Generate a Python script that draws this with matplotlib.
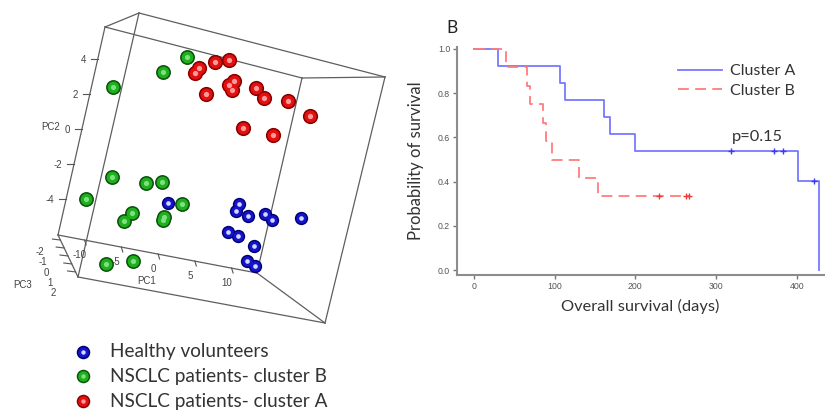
import numpy as np
import matplotlib.pyplot as plt

healthy_pc1 = [-0.24, 9.13, 8.85, 10.57, 12.78, 13.82, 17.56, 8.43, 9.94, 12.27, 11.77, 12.99]
healthy_pc2 = [-3.20, -2.50, -2.89, -3.06, -2.78, -3.03, -2.63, -4.13, -4.26, -4.63, -5.55, -5.72]

clusterB_pc1 = [-1.98, -4.69, -10.77, -8.32, -3.70, -1.58, -11.02, 1.69, -4.64, -5.41, -0.28, -0.30, -6.49, -3.10]
clusterB_pc2 = [5.05, 4.01, 2.66, -2.32, -2.33, -2.06, -3.82, -3.08, -4.13, -4.63, -3.97, -4.19, -7.21, -6.74]

clusterA_pc1 = [-0.15, -0.52, 1.80, 3.50, 4.80, 4.31, 4.77, 1.55, 7.86, 9.23, 12.44, 15.75, 7.32, 11.45]
clusterA_pc2 = [4.60, 4.29, 5.10, 5.34, 4.25, 3.97, 3.72, 3.21, 4.06, 3.60, 3.70, 3.11, 1.76, 1.67]

pc1_ticks = [-10, -5, 0, 5, 10]
pc2_ticks = [4, 2, 0, -2, -4]
pc3_ticks = [-2, -1, 0, 1, 2]

# ---- panel B: Kaplan-Meier steps ----
km_A_days = [0, 30, 106, 113, 161, 169, 200, 402, 427]
km_A_surv = [1.0, 0.923, 0.846, 0.769, 0.692, 0.615, 0.538, 0.404, 0.0]
km_A_cens_days = [319, 372, 383, 421]
km_A_cens_surv = [0.538, 0.538, 0.538, 0.404]

km_B_days = [0, 40, 66, 69, 86, 89, 97, 130, 154, 267]
km_B_surv = [1.0, 0.917, 0.833, 0.75, 0.667, 0.583, 0.5, 0.417, 0.333, 0.333]
km_B_cens_days = [229, 263, 266]
km_B_cens_surv = [0.333, 0.333, 0.333]

legend_labels = ['Healthy volunteers', 'NSCLC patients- cluster B', 'NSCLC patients- cluster A']

plt.rcParams['font.family'] = ['Lato', 'DejaVu Sans']

fig = plt.figure(figsize=(8.32, 4.13), dpi=100)

# left panel drawn in a pixel-like frame
axl = fig.add_axes([0, 0, 400 / 832, 1])
axl.set_xlim(0, 400)
axl.set_ylim(413, 0)
axl.axis('off')


def proj(p1, p2):
    p1 = np.asarray(p1, float)
    p2 = np.asarray(p2, float)
    return 182 + 7.35 * p1 + 3.93 * p2, 148 + 1.40 * p1 - 17.4 * p2


# box corners (perspective view)
A, B, C, D = (105, 27), (139, 13), (385, 77), (302, 78)
E, F, G, H = (58, 235), (78, 277), (325, 323), (257, 273)
edges = [(A, B), (B, C), (C, D), (D, A), (A, E), (B, F), (C, G), (D, H),
         (E, H), (E, F), (F, G), (H, G)]
for p, q in edges:
    axl.plot([p[0], q[0]], [p[1], q[1]], color='#5e5e5e', lw=0.9, zorder=1)

tick_kw = dict(color='#555555', lw=0.8, zorder=1)
lab_kw = dict(fontsize=7, color='#444444', family=['Liberation Sans'])
# PC2 ticks on the left front edge
for v in pc2_ticks:
    x, y = proj(-13.6, v)
    axl.plot([x - 7, x], [y, y], **tick_kw)
    axl.text(x - 12, y + 1, str(v), ha='right', va='center', **lab_kw)
x0, y0 = proj(-13.6, 0)
axl.text(x0 - 22, y0 - 2, 'PC2', ha='right', va='center', **lab_kw)
# PC1 ticks on the bottom front edge
for v in pc1_ticks:
    x, y = proj(v, -6.09)
    axl.plot([x, x + 1.5], [y, y + 5], **tick_kw)
    axl.text(x - 5, y + 15, str(v), ha='center', va='center', **lab_kw)
x0, y0 = proj(0, -6.09)
axl.text(x0 - 11, y0 + 27, 'PC1', ha='center', va='center', **lab_kw)
# PC3 ticks on the left depth edge
for k, v in enumerate(pc3_ticks):
    t = 0.12 + 0.19 * k
    x = E[0] + t * (F[0] - E[0])
    y = E[1] + t * (F[1] - E[1])
    axl.plot([x - 8, x], [y - 1, y], **tick_kw)
    axl.text(40 + 3.2 * k, 252 + 10.3 * k, str(v), ha='center', va='center', **lab_kw)
axl.text(23, 285, 'PC3', ha='center', va='center', **lab_kw)

# spheres
def spheres(xs, ys, dark, mid, light, size=115):
    axl.scatter(xs, ys, s=size, color=dark, zorder=3, linewidths=0)
    axl.scatter(xs, ys, s=size * 0.62, color=mid, zorder=3, linewidths=0)
    axl.scatter(xs, ys, s=size * 0.12, color=light, zorder=3, linewidths=0)

sx, sy = proj(clusterB_pc1, clusterB_pc2)
spheres(sx, sy, '#0b520b', '#1fb01f', '#7fe07f')
sx, sy = proj(clusterA_pc1, clusterA_pc2)
spheres(sx, sy, '#8a0000', '#e41010', '#ff9a9a', size=120)
sx, sy = proj(healthy_pc1, healthy_pc2)
spheres(sx, sy, '#000070', '#1414cc', '#d8d8ff', size=92)

# legend of panel A
leg_cols = [('#000070', '#1414cc', '#d8d8ff'), ('#0b520b', '#1fb01f', '#7fe07f'),
            ('#8a0000', '#e41010', '#ff9a9a')]
for k, (lab, cols) in enumerate(zip(legend_labels, leg_cols)):
    yy = 351.5 + 24.8 * k
    axl.scatter([83], [yy], s=95, color=cols[0], zorder=3, linewidths=0)
    axl.scatter([83], [yy], s=58, color=cols[1], zorder=3, linewidths=0)
    axl.scatter([83], [yy], s=10, color=cols[2], zorder=3, linewidths=0)
    axl.text(110, yy, lab, ha='left', va='center', fontsize=13.7, color='#333333')

# ---- right panel ----
ax = fig.add_axes([457 / 832, 1 - 275 / 413, (824 - 457) / 832, (275 - 46.7) / 413])
ax.step(km_A_days, km_A_surv, where='post', color='#7878ff', lw=1.3, label='Cluster A')
ax.step(km_B_days, km_B_surv, where='post', color='#ff7c7c', lw=1.3,
        dashes=(6, 3.5), label='Cluster B')
ax.plot(km_A_cens_days, km_A_cens_surv, '+', color='#3a3aee', ms=4, mew=1)
ax.plot(km_B_cens_days, km_B_cens_surv, '+', color='#ee3a3a', ms=4, mew=1)

ax.set_xlim(-21, 433.7)
ax.set_ylim(-0.0226, 1.0104)
ax.set_xticks([0, 100, 200, 300, 400])
ax.set_yticks([0.0, 0.2, 0.4, 0.6, 0.8, 1.0])
ax.set_yticklabels(['0.0', '0.2', '0.4', '0.6', '0.8', '1.0'])
for s in ['top', 'right']:
    ax.spines[s].set_visible(False)
for s in ['left', 'bottom']:
    ax.spines[s].set_color('#8c8c8c')
    ax.spines[s].set_linewidth(1.5)
ax.tick_params(length=3, width=1, color='#777777', labelsize=6.3, labelcolor='#555555', pad=2)
for t in ax.get_xticklabels() + ax.get_yticklabels():
    t.set_family(['Liberation Sans'])

ax.set_xlabel('Overall survival (days)', fontsize=11.8, color='#333333', labelpad=6)
ax.set_ylabel('Probability of survival', fontsize=12, color='#333333', labelpad=10)
ax.text(320, 0.603, 'p=0.15', fontsize=11.8, color='#333333', ha='left', va='center')
ax.legend(loc='upper left', bbox_to_anchor=(0.564, 0.987), frameon=False, fontsize=11.5,
          handlelength=2.75, handletextpad=0.5, labelspacing=0.35, labelcolor='#333333')

fig.text(451.7 / 832, 1 - 28 / 413, 'B', fontsize=12.5, color='#222222', ha='center', va='center')

fig.savefig('out.png', dpi=100)
